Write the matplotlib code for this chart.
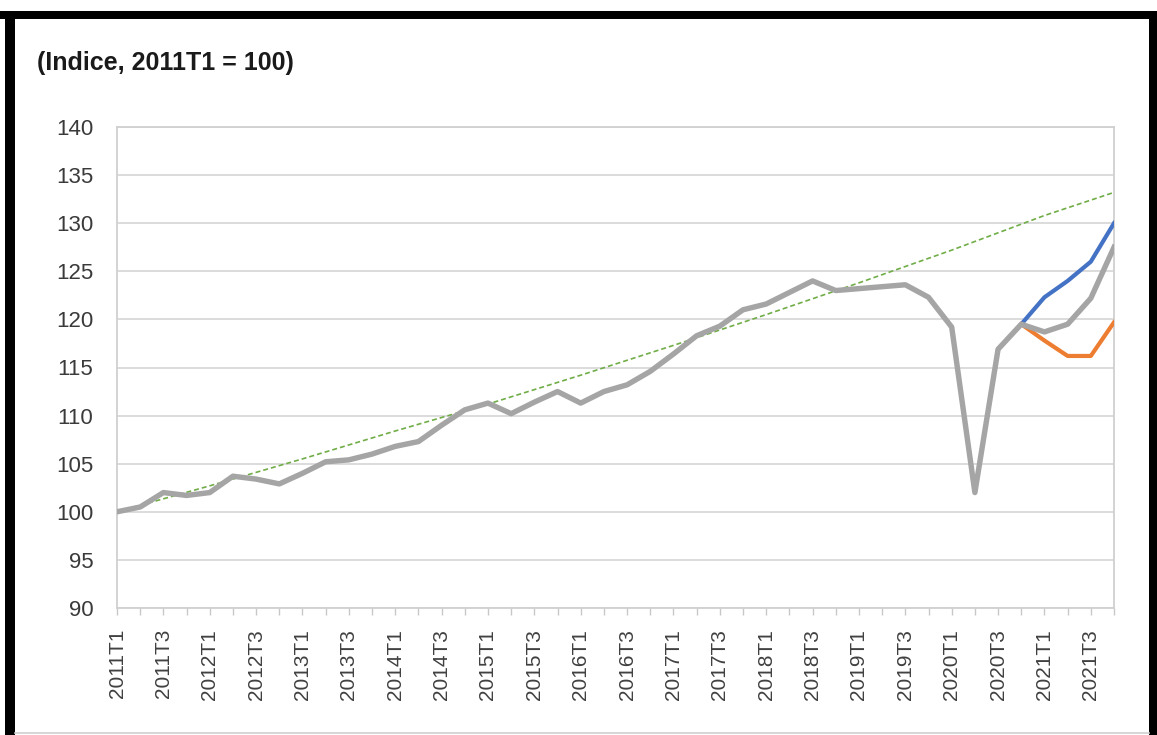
import numpy as np
import matplotlib.pyplot as plt
from matplotlib.lines import Line2D

# --- Data (index, 2011T1 = 100) ---
quarters = [f"{y}T{q}" for y in range(2011, 2022) for q in range(1, 5)]

# observed / central path (2011T1 .. 2021T4)
central = [100.0, 100.5, 102.0, 101.7, 102.0, 103.7, 103.4, 102.9,
           104.0, 105.2, 105.4, 106.0, 106.8, 107.3, 109.0, 110.6,
           111.3, 110.2, 111.4, 112.5, 111.3, 112.5, 113.2, 114.6,
           116.4, 118.3, 119.3, 121.0, 121.6, 122.8, 124.0, 123.0,
           123.2, 123.4, 123.6, 122.3, 119.2, 102.0, 116.9, 119.5,
           118.7, 119.5, 122.2, 127.5]

# scenarios start from 2020T4
scen_start = 39
upside = [119.5, 122.3, 124.0, 126.0, 130.0]
downside = [119.5, 117.8, 116.2, 116.2, 119.7]

# pre-crisis trend, read at each T1 and at the last quarter
trend_idx = [0, 4, 8, 12, 16, 20, 24, 28, 32, 36, 40, 43]
trend_val = [100.0, 102.7, 105.5, 108.4, 111.2, 114.2, 117.3,
             120.5, 123.8, 127.2, 130.8, 133.2]

# --- Figure ---
W, H = 1157, 735
fig = plt.figure(figsize=(W / 100, H / 100), dpi=100)
fig.patch.set_facecolor('white')

# frame around the figure (black bars top / left / right, thin grey bottom)
fig.add_artist(plt.Rectangle((0, 1 - 19 / H), 1, 8 / H, transform=fig.transFigure,
                             color='black', lw=0))
fig.add_artist(plt.Rectangle((5 / W, 0), 10 / W, 1 - 11 / H, transform=fig.transFigure,
                             color='black', lw=0))
fig.add_artist(plt.Rectangle((1149 / W, 0), 8 / W, 1 - 11 / H, transform=fig.transFigure,
                             color='black', lw=0))
fig.add_artist(Line2D([15 / W, 1149 / W], [2 / H, 2 / H], transform=fig.transFigure,
                      color='#d0d0d0', lw=1.2))

left, right, top, bottom = 117, 1114, 127, 608
ax = fig.add_axes([left / W, 1 - bottom / H, (right - left) / W, (bottom - top) / H])

x = np.arange(len(quarters))
xs = np.arange(scen_start, scen_start + len(upside))

ax.plot(trend_idx, trend_val, color='#70AD47', lw=1.2, ls=(0, (3, 1.8)), zorder=2)
ax.plot(xs, upside, color='#4472C4', lw=3.0, solid_joinstyle='round', zorder=3)
ax.plot(xs, downside, color='#ED7D31', lw=3.0, solid_joinstyle='round', zorder=3)
ax.plot(x, central, color='#A5A5A5', lw=3.9, solid_joinstyle='round', zorder=4)

ax.set_xlim(0, len(quarters) - 1)
ax.set_ylim(90, 140)
ax.set_yticks(np.arange(90, 141, 5))
ax.grid(axis='y', color='#d9d9d9', lw=1.3)
ax.set_axisbelow(True)

ax.set_xticks(x)
ax.set_xticklabels([q if i % 2 == 0 else '' for i, q in enumerate(quarters)],
                   rotation=90, fontsize=15, color='#404040', family='Liberation Sans')
ax.tick_params(axis='x', length=5, width=1, color='#c8c8c8', pad=10)
ax.tick_params(axis='y', length=0, pad=17, labelsize=16, labelcolor='#3a3a3a')
for lab in ax.get_yticklabels():
    lab.set_family('Liberation Sans')

for s in ax.spines.values():
    s.set_color('#d0d0d0')
    s.set_linewidth(1.3)

fig.text(37 / W, 1 - 63 / H, '(Indice, 2011T1 = 100)', fontsize=18, fontweight='bold',
         color='#1a1a1a', va='center', ha='left', family='Liberation Sans')

fig.savefig('out.png', dpi=100)
